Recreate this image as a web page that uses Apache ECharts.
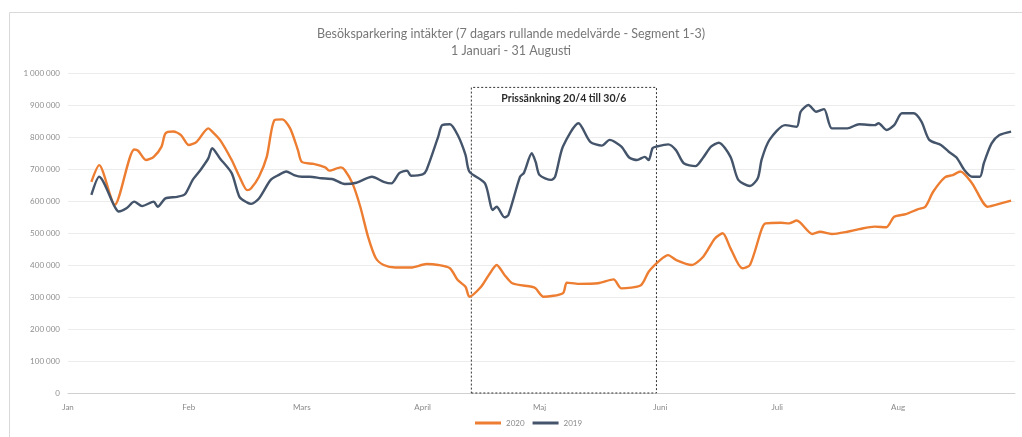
<!DOCTYPE html>
<html>
<head>
<meta charset="utf-8">
<script src="https://cdn.jsdelivr.net/npm/echarts@6/dist/echarts.min.js"></script>
<style>
html,body{margin:0;padding:0;background:#fff;}
#chart{width:1022px;height:437px;}
</style>
</head>
<body>
<div id="chart"></div>
<script>
// Day of year (0 = 1 Jan 2020) and 7-day rolling average revenue
const days2020 = [6,8,12,17,18,20,22,24,25,27,29,31,33,36,37,39,42,44,46,47,49,51,53,55,57,59,60,63,66,67,70,71,73,75,77,79,81,84,88,92,95,98,100,102,103,106,108,110,112,114,119,120,122,127,128,131,136,140,142,147,149,152,154,156,160,163,166,168,170,173,175,178,179,183,185,187,191,193,196,200,203,207,210,212,215,218,220,222,225,227,229,232,236,238,242];
const vals2020 = [660,712,588,761,757,728,738,770,811,817,806,775,785,827,817,791,728,676,634,640,676,738,853,855,827,759,722,716,705,695,705,697,655,582,488,421,400,392,392,403,400,390,353,332,301,332,369,400,369,343,332,327,301,312,345,341,343,355,327,337,379,416,431,416,400,426,483,499,452,390,400,512,530,532,530,539,497,504,497,504,512,520,518,551,559,574,582,629,674,681,692,655,582,588,601];
const days2019 = [6,8,12,13,15,17,19,22,23,25,28,30,32,34,36,37,39,42,44,46,47,49,52,54,56,58,60,62,65,68,71,74,78,81,83,85,87,88,91,92,95,96,98,100,102,103,107,109,110,112,113,116,117,119,120,121,124,125,127,131,134,137,139,142,144,146,148,149,150,151,154,156,158,161,163,165,167,170,172,175,177,178,180,184,187,188,190,192,194,196,200,203,207,208,210,212,214,217,219,221,224,226,228,230,232,234,235,237,239,242];
const vals2019 = [619,676,582,567,577,598,584,598,582,608,613,621,666,697,733,765,733,687,613,595,591,608,666,681,692,681,676,676,671,668,653,657,676,660,655,687,695,679,683,697,801,837,840,806,744,692,655,572,582,549,556,676,688,749,722,681,666,676,770,843,785,773,791,770,736,728,738,728,765,770,777,759,718,709,736,770,782,738,666,647,671,730,791,837,832,879,900,879,887,827,827,840,837,843,822,837,874,874,848,791,775,754,736,697,676,676,718,780,806,817];
const monthStarts = [0,31,60,91,121,152,182,213];
const monthLabels = ['Jan','Feb','Mars','April','Maj','Juni','Juli','Aug'];
const boxDays = [103.5, 151];
const boxTop = 955000;

const pairs = (d, v) => d.map((x, i) => [x, v[i] * 1000]);
const fmt = n => String(n).replace(/\B(?=(\d{3})+(?!\d))/g, ' ');
const FONT = 'Lato';

const chart = echarts.init(document.getElementById('chart'), null, {renderer: 'canvas'});
chart.setOption({
  animation: false,
  textStyle: {fontFamily: FONT},
  graphic: [{
    type: 'rect', shape: {x: 9.5, y: 12.5, width: 1030, height: 440},
    style: {fill: 'none', stroke: '#d9d9d9', lineWidth: 1}, silent: true, z: -1
  }],
  title: {
    text: 'Besöksparkering intäkter (7 dagars rullande medelvärde - Segment 1-3)\n1 Januari - 31 Augusti',
    left: 'center', top: 20,
    textStyle: {fontFamily: FONT, fontSize: 12.5, fontWeight: 'normal', color: '#777777', lineHeight: 17}
  },
  legend: {
    bottom: 5, left: 470, itemWidth: 26, itemHeight: 3, itemGap: 8,
    icon: 'rect',
    textStyle: {fontFamily: FONT, fontSize: 8, color: '#8a8a8a'},
    data: ['2020', '2019']
  },
  grid: {left: 68, right: 7, top: 73, bottom: 44, containLabel: false},
  xAxis: {
    type: 'value', min: 0, max: 243,
    axisLine: {show: true, lineStyle: {color: '#d0d0d0', width: 1}},
    axisTick: {show: false},
    splitLine: {show: false},
    axisLabel: {
      customValues: monthStarts,
      formatter: v => monthLabels[monthStarts.indexOf(v)] || '',
      fontFamily: FONT, fontSize: 8, color: '#8a8a8a', margin: 10
    }
  },
  yAxis: {
    type: 'value', min: 0, max: 1000000, interval: 100000,
    axisLine: {show: false}, axisTick: {show: false},
    splitLine: {lineStyle: {color: '#ececec', width: 1}},
    axisLabel: {formatter: v => fmt(v), fontFamily: FONT, fontSize: 8, color: '#8f8f8f', margin: 8}
  },
  series: [
    {
      name: '2020', type: 'line', data: pairs(days2020, vals2020),
      showSymbol: false, smooth: 0.25, z: 3,
      lineStyle: {color: '#ED7D31', width: 2.4}, itemStyle: {color: '#ED7D31'},
      markArea: {
        silent: true,
        itemStyle: {color: 'rgba(0,0,0,0)', borderColor: '#333', borderWidth: 1, borderType: [2, 2]},
        label: {
          show: true, position: 'insideTop', distance: 6,
          formatter: 'Prissänkning 20/4 till 30/6',
          fontFamily: FONT, fontSize: 10.5, fontWeight: 'bold', color: '#2b2b2b'
        },
        data: [[{xAxis: boxDays[0], yAxis: -6000}, {xAxis: boxDays[1], yAxis: boxTop}]]
      }
    },
    {
      name: '2019', type: 'line', data: pairs(days2019, vals2019),
      showSymbol: false, smooth: 0.25, z: 4,
      lineStyle: {color: '#44546A', width: 2.4}, itemStyle: {color: '#44546A'}
    }
  ]
});
</script>
</body>
</html>
